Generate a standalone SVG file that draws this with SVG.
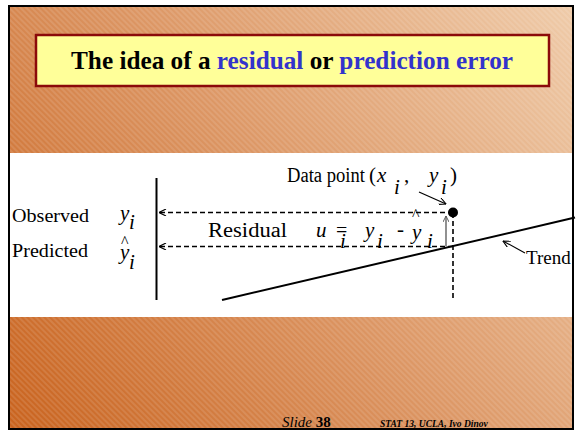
<svg xmlns="http://www.w3.org/2000/svg" width="578" height="431" viewBox="0 0 578 431">
<defs>
<linearGradient id="bg" gradientUnits="userSpaceOnUse" x1="9" y1="429" x2="572" y2="5">
<stop offset="0" stop-color="#C9631E"/>
<stop offset="0.5" stop-color="#DC9664"/>
<stop offset="1" stop-color="#EFCBA9"/>
</linearGradient>
<pattern id="hatch" patternUnits="userSpaceOnUse" width="4" height="4" patternTransform="rotate(-45)">
<line x1="1" y1="0" x2="1" y2="4" stroke="#ffffff" stroke-opacity="0.22" stroke-width="1"/>
</pattern>
<marker id="open" viewBox="0 0 10 10" refX="10" refY="5" markerUnits="userSpaceOnUse" markerWidth="8" markerHeight="7" orient="auto">
<path d="M0,0 L10,5 L0,10" fill="none" stroke="#000" stroke-width="1.6"/>
</marker>
<marker id="openGray" viewBox="0 0 10 10" refX="10" refY="5" markerUnits="userSpaceOnUse" markerWidth="8" markerHeight="6" orient="auto">
<path d="M0,0 L10,5 L0,10" fill="none" stroke="#555" stroke-width="1.6"/>
</marker>
</defs>
<style>
.serif{font-family:"Liberation Serif","Times New Roman",serif;fill:#000}
.lbl{font-size:19px}
.math{font-size:21px;font-style:italic}
.dash{fill:none;stroke:#000;stroke-width:1.6;stroke-dasharray:5 3}
.solid{fill:none;stroke:#000;stroke-width:2}
.thin{fill:none;stroke:#000;stroke-width:1.1}
</style>

<g id="slide-background">
<rect x="9" y="6" width="564" height="423" fill="url(#bg)"/>
<rect x="9" y="6" width="564" height="423" fill="url(#hatch)"/>
<rect x="9" y="153" width="564" height="164" fill="#ffffff"/>
<rect x="9" y="6" width="564" height="423" fill="none" stroke="#000" stroke-width="2"/>
</g>

<g id="title">
<rect x="36" y="35" width="513" height="51" fill="#FFFF99" stroke="#8B0A0A" stroke-width="2.5"/>
<text class="serif" x="292" y="69" text-anchor="middle" font-size="25" font-weight="bold" textLength="442" lengthAdjust="spacingAndGlyphs">The idea of a <tspan fill="#3333CC">residual</tspan> or <tspan fill="#3333CC">prediction error</tspan></text>
</g>

<g id="connectors">
<line id="axis" class="solid" x1="156.5" y1="178" x2="156.5" y2="300"/>
<line id="trend-line" class="solid" x1="222" y1="300" x2="575" y2="217.5"/>
<line id="observed-arrow" class="dash" x1="453" y1="212.5" x2="159" y2="212.5" marker-end="url(#open)"/>
<line id="predicted-arrow" class="dash" x1="453" y1="246.5" x2="159" y2="246.5" marker-end="url(#open)"/>
<line id="x-drop" class="dash" x1="453" y1="213" x2="453" y2="298"/>
<line id="residual-arrow" x1="446" y1="246" x2="446" y2="216" stroke="#555" stroke-width="1.3" marker-end="url(#openGray)"/>
<line id="point-pointer" class="thin" x1="419" y1="192" x2="446" y2="204" marker-end="url(#open)"/>
<line id="trend-pointer" class="thin" x1="525" y1="253" x2="503" y2="241" marker-end="url(#open)"/>
</g>

<g id="data-point">
<circle cx="453" cy="212.5" r="5" fill="#000"/>
<text class="serif" x="287" y="182" font-size="20" textLength="78" lengthAdjust="spacingAndGlyphs">Data point</text>
<text class="serif" x="369" y="182" font-size="21">(</text>
<text class="serif math" x="377" y="182">x</text>
<text class="serif math" x="394" y="194">i</text>
<text class="serif" x="404" y="182" font-size="21">,</text>
<text class="serif math" x="429" y="182">y</text>
<text class="serif math" x="441" y="194">i</text>
<text class="serif" x="450" y="182" font-size="21">)</text>
</g>

<g id="observed">
<text class="serif lbl" x="12" y="222" textLength="77" lengthAdjust="spacingAndGlyphs">Observed</text>
<text class="serif math" x="120" y="220">y</text>
<text class="serif math" x="129" y="229">i</text>
</g>

<g id="predicted">
<text class="serif lbl" x="12" y="257" textLength="76" lengthAdjust="spacingAndGlyphs">Predicted</text>
<text class="serif" x="121" y="247" font-size="16">^</text>
<text class="serif math" x="120" y="259">y</text>
<text class="serif math" x="129" y="269">i</text>
</g>

<g id="residual">
<text class="serif" x="208" y="237" font-size="20" textLength="79" lengthAdjust="spacingAndGlyphs">Residual</text>
<text class="serif math" x="316" y="237">u</text>
<text class="serif math" x="340" y="248">i</text>
<text class="serif" x="336" y="237" font-size="20">=</text>
<text class="serif math" x="365" y="237">y</text>
<text class="serif math" x="377" y="248">i</text>
<text class="serif" x="397" y="236" font-size="21">-</text>
<text class="serif" x="412" y="220" font-size="16">^</text>
<text class="serif math" x="412" y="239">y</text>
<text class="serif math" x="427" y="248">i</text>
</g>

<g id="trend">
<text class="serif" x="526" y="264" font-size="19">Trend</text>
</g>

<g id="footer">
<text class="serif" x="282" y="427" font-size="15"><tspan font-style="italic">Slide </tspan><tspan font-weight="bold">38</tspan></text>
<text class="serif" x="380" y="427" font-size="9.5" font-weight="bold" font-style="italic">STAT 13, UCLA, Ivo Dinov</text>
</g>
</svg>
